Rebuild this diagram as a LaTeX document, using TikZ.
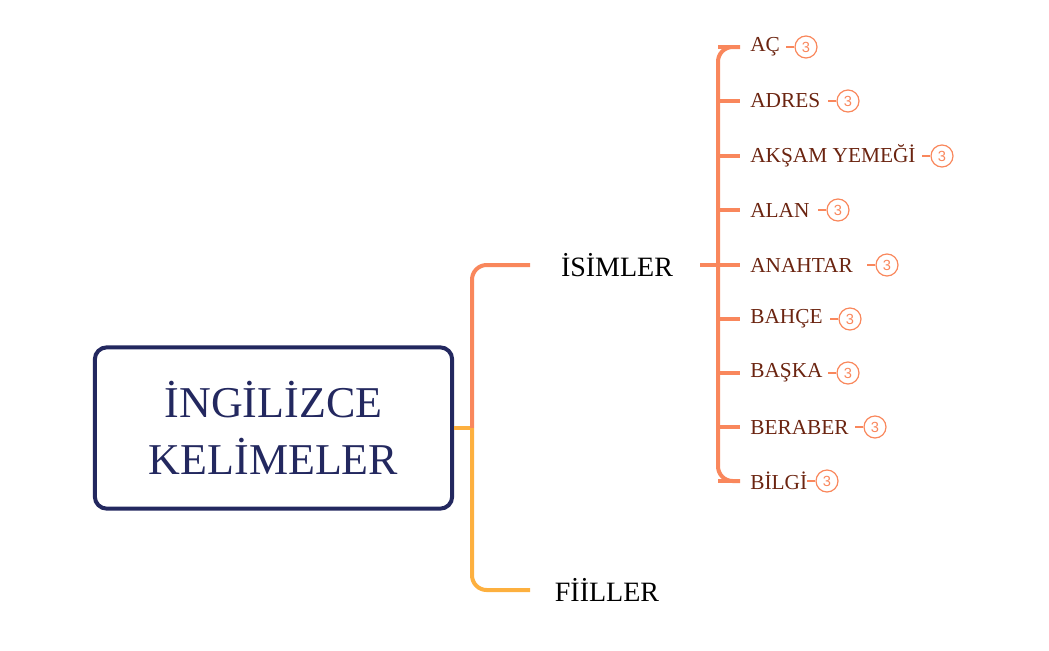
\documentclass[tikz,border=0pt]{standalone}
\usepackage{fontspec}
\setmainfont{Liberation Serif}
\newfontfamily\badgefont{Liberation Sans}
\begin{document}
\begin{tikzpicture}[x=0.75pt,y=-0.75pt,
  orng/.style={draw={rgb,255:red,249;green,135;blue,92},line width=3pt},
  yel/.style={draw={rgb,255:red,253;green,176;blue,63},line width=3pt},
  leaf/.style={anchor=west,inner sep=0pt,text={rgb,255:red,107;green,36;blue,16},font=\fontsize{16}{18}\selectfont},
  badge/.style={circle,draw={rgb,255:red,249;green,135;blue,92},line width=0.9pt,minimum size=16.5pt,inner sep=0pt,text={rgb,255:red,249;green,135;blue,92},font=\badgefont\fontsize{11}{12}\selectfont},
  bdash/.style={draw={rgb,255:red,249;green,135;blue,92},line width=1.5pt}]
\useasboundingbox (0,0) rectangle (1049,650);
\node[draw={rgb,255:red,35;green,40;blue,95},line width=3pt,rounded corners=9pt,minimum width=268pt,minimum height=121pt,align=center,text={rgb,255:red,35;green,40;blue,95},font=\fontsize{33}{43}\selectfont] (root) at (273.5,428) {İNGİLİZCE\\KELİMELER};
\node[font=\fontsize{21}{24}\selectfont] (isim) at (617,265) {İSİMLER};
\node[font=\fontsize{21}{24}\selectfont] (fiil) at (607,590) {FİİLLER};
\coordinate (j) at (472,428);
\draw[yel] (root.east) -- (j);
\draw[orng,rounded corners=11pt] (j) -- (472,265) -- (530,265);
\draw[yel,rounded corners=11pt] (j) -- (472,590) -- (530,590);
\draw[orng] (700,265) -- (718,265);
\draw[orng,rounded corners=11pt] (740,47) -- (718,47) -- (718,481) -- (740,481);
\foreach \y/\t/\c [count=\i] in {47/AÇ/806,101/ADRES/848,156/AKŞAM YEMEĞİ/942,210/ALAN/838,265/ANAHTAR/887,319/BAHÇE/850,373/BAŞKA/848,427/BERABER/875,481/BİLGİ/827}{
  \draw[orng] (718,\y) -- (740,\y);
  \node[leaf] (l\i) at (750,\y) {\t};
  \node[badge] (b\i) at (\c,\y) {3};
  \draw[bdash] ([xshift=-6pt]b\i.west) -- (b\i.west);
}
\end{tikzpicture}
\end{document}
